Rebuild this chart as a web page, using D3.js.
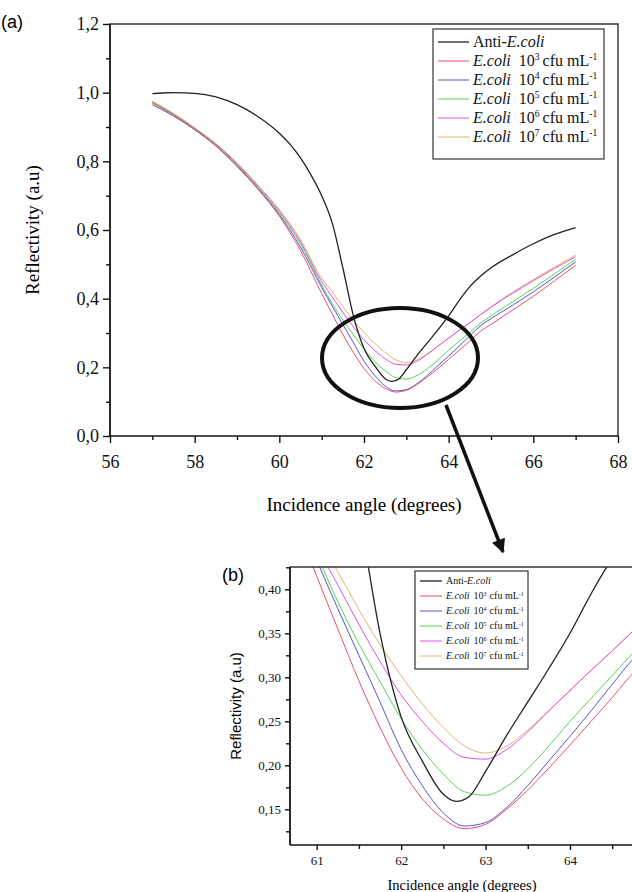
<!DOCTYPE html>
<html>
<head>
<meta charset="utf-8">
<script src="https://cdn.jsdelivr.net/npm/d3@7"></script>
<style>
  body { margin: 0; background: #fff; }
  svg { display: block; }
  .tick text { font-family: 'Liberation Serif', 'Times New Roman', serif; }
</style>
</head>
<body>
<svg id="chart" width="632" height="892"></svg>
<script>
// angles (degrees) shared by the E.coli curves
const angles = [57, 57.5, 58, 58.5, 59, 59.5, 60, 60.5, 61, 61.25, 61.5, 61.75, 62, 62.25, 62.5, 62.75,
  63, 63.25, 63.5, 63.75, 64, 64.25, 64.5, 64.75, 65, 65.5, 66, 66.5, 67];

const ecoli3 = [0.970, 0.935, 0.893, 0.845, 0.785, 0.718, 0.640, 0.540, 0.415, 0.355, 0.296, 0.243, 0.197, 0.162, 0.139, 0.128,
  0.133, 0.150, 0.172, 0.197, 0.223, 0.250, 0.277, 0.305, 0.325, 0.366, 0.407, 0.452, 0.497];
const ecoli4 = [0.965, 0.932, 0.892, 0.845, 0.787, 0.720, 0.645, 0.550, 0.433, 0.378, 0.325, 0.272, 0.218, 0.177, 0.146, 0.131,
  0.135, 0.152, 0.177, 0.205, 0.233, 0.262, 0.292, 0.321, 0.342, 0.380, 0.420, 0.463, 0.507];
const ecoli5 = [0.972, 0.937, 0.895, 0.848, 0.790, 0.723, 0.650, 0.560, 0.440, 0.386, 0.338, 0.295, 0.253, 0.218, 0.190, 0.170,
  0.166, 0.176, 0.196, 0.222, 0.250, 0.276, 0.302, 0.328, 0.350, 0.390, 0.430, 0.472, 0.515];
const ecoli6 = [0.972, 0.937, 0.896, 0.850, 0.793, 0.727, 0.655, 0.565, 0.450, 0.405, 0.360, 0.318, 0.280, 0.250, 0.225, 0.209,
  0.207, 0.218, 0.238, 0.262, 0.285, 0.308, 0.330, 0.353, 0.375, 0.415, 0.452, 0.488, 0.522];
const ecoli7 = [0.975, 0.940, 0.898, 0.852, 0.796, 0.730, 0.660, 0.572, 0.460, 0.420, 0.377, 0.337, 0.302, 0.270, 0.243, 0.222,
  0.214, 0.222, 0.240, 0.262, 0.285, 0.308, 0.330, 0.353, 0.376, 0.418, 0.456, 0.492, 0.527];

// the antibody-only curve was read on its own grid
const antiAngles = [57, 57.25, 57.5, 58, 58.5, 59, 59.5, 60, 60.25, 60.5, 60.75, 61, 61.25, 61.5, 61.75, 62, 62.25, 62.5,
  62.65, 62.8, 63, 63.25, 63.5, 63.75, 64, 64.25, 64.5, 64.75, 65, 65.5, 66, 66.5, 67];
const antiEcoli = [0.997, 0.999, 1.0, 0.998, 0.988, 0.965, 0.930, 0.882, 0.850, 0.810, 0.760, 0.700, 0.620, 0.490, 0.350, 0.255, 0.205, 0.167,
  0.159, 0.164, 0.193, 0.234, 0.272, 0.310, 0.350, 0.395, 0.435, 0.465, 0.490, 0.527, 0.560, 0.587, 0.607];

const xTicksA = [56, 58, 60, 62, 64, 66, 68];
const yTicksA = [0, 0.2, 0.4, 0.6, 0.8, 1.0, 1.2];
const xTicksB = [61, 62, 63, 64];
const yTicksB = [0.15, 0.20, 0.25, 0.30, 0.35, 0.40];

const series = [
  { name: "anti", xs: antiAngles, ys: antiEcoli, color: "#222", width: 1.3 },
  { name: "3", xs: angles, ys: ecoli3, color: "#e8506e", width: 1 },
  { name: "4", xs: angles, ys: ecoli4, color: "#5555cc", width: 1 },
  { name: "5", xs: angles, ys: ecoli5, color: "#55d655", width: 1 },
  { name: "6", xs: angles, ys: ecoli6, color: "#e050e0", width: 1 },
  { name: "7", xs: angles, ys: ecoli7, color: "#e2b272", width: 1 }
];

const serif = "'Liberation Serif', 'Times New Roman', serif";
const sans = "'Liberation Sans', Arial, sans-serif";
const comma = (f) => (d) => d3.format(f)(d).replace(".", ",");

const svg = d3.select("#chart");

function drawPanel(p) {
  const g = svg.append("g");
  const x = d3.scaleLinear().domain(p.xDom).range(p.xRange);
  const y = d3.scaleLinear().domain(p.yDom).range(p.yRange);

  // clip so the zoomed curves stop at the frame
  g.append("clipPath").attr("id", "clip-" + p.id)
    .append("rect")
    .attr("x", p.left).attr("y", p.top)
    .attr("width", p.right - p.left).attr("height", p.bottom - p.top);

  const line = d3.line()
    .x((d) => x(d[0]))
    .y((d) => y(d[1]))
    .curve(d3.curveMonotoneX);

  const curves = g.append("g").attr("clip-path", "url(#clip-" + p.id + ")");
  series.slice().reverse().forEach((s) => {
    curves.append("path")
      .datum(s.xs.map((v, i) => [v, s.ys[i]]))
      .attr("d", line)
      .attr("fill", "none")
      .attr("stroke", s.color)
      .attr("stroke-width", s.width);
  });

  // top and right frame
  g.append("path")
    .attr("d", `M${p.left},${p.bottom}V${p.top}H${p.right}V${p.bottom}`)
    .attr("fill", "none").attr("stroke", "#333").attr("stroke-width", 1.4);

  // minor ticks
  g.append("g").attr("transform", `translate(0,${p.bottom})`)
    .call(d3.axisBottom(x).tickValues(p.xMinor).tickSize(p.minorLen).tickSizeOuter(0).tickFormat(""))
    .call((a) => a.select(".domain").remove());
  g.append("g").attr("transform", `translate(${p.left},0)`)
    .call(d3.axisLeft(y).tickValues(p.yMinor).tickSize(p.minorLen).tickSizeOuter(0).tickFormat(""))
    .call((a) => a.select(".domain").remove());

  // major ticks and labels
  const xa = g.append("g").attr("transform", `translate(0,${p.bottom})`)
    .call(d3.axisBottom(x).tickValues(p.xTicks).tickSize(p.majorLen).tickSizeOuter(0)
      .tickPadding(p.xPad).tickFormat(d3.format("d")))
    .attr("font-family", serif);
  xa.select(".domain").attr("d", `M${p.left},0H${p.right}`);
  const ya = g.append("g").attr("transform", `translate(${p.left},0)`)
    .call(d3.axisLeft(y).tickValues(p.yTicks).tickSize(p.majorLen).tickSizeOuter(0)
      .tickPadding(p.yPad).tickFormat(comma(p.yFmt)))
    .attr("font-family", serif);
  ya.select(".domain").attr("d", `M0,${p.bottom}V${p.top}`);

  g.selectAll(".tick line, .domain").attr("stroke", "#111").attr("stroke-width", 1.4);
  g.selectAll(".tick text")
    .style("font-family", serif)
    .style("font-size", p.tickFont + "px")
    .attr("fill", "#111");

  // axis titles
  g.append("text")
    .attr("x", (p.left + Math.min(p.right, 632)) / 2 + p.xTitleShift).attr("y", p.xTitleY)
    .attr("text-anchor", "middle").style("font-family", serif).style("font-size", p.titleFont + "px")
    .text("Incidence angle (degrees)");
  g.append("text")
    .attr("transform", `translate(${p.yTitleX},${(p.top + p.bottom) / 2}) rotate(-90)`)
    .attr("text-anchor", "middle").attr("dy", "0.35em")
    .style("font-family", p.yTitleFamily).style("font-size", p.yTitleFont + "px")
    .text("Reflectivity (a.u)");

  // panel letter
  g.append("text").attr("x", p.letterX).attr("y", p.letterY)
    .style("font-family", sans).style("font-size", "18px").text(p.letter);

  // legend
  const L = p.legend;
  const lg = g.append("g");
  lg.append("rect").attr("x", L.x).attr("y", L.y).attr("width", L.w).attr("height", L.h)
    .attr("fill", "#fff").attr("stroke", "#444").attr("stroke-width", 1.3);
  series.forEach((s, i) => {
    const cy = L.y + L.first + i * L.step;
    lg.append("line").attr("x1", L.x + 5).attr("x2", L.x + 5 + L.sample)
      .attr("y1", cy).attr("y2", cy).attr("stroke", s.color).attr("stroke-width", s.width);
    const t = lg.append("text").attr("x", L.x + 9 + L.sample).attr("y", cy + L.font * 0.33)
      .style("font-family", serif).style("font-size", L.font + "px").attr("fill", "#111");
    if (s.name === "anti") {
      t.append("tspan").text("Anti-");
      t.append("tspan").attr("font-style", "italic").text("E.coli");
    } else {
      t.append("tspan").attr("font-style", "italic").text("E.coli");
      t.append("tspan").attr("dx", L.gap).text("10");
      t.append("tspan").attr("dy", -L.font * 0.38).style("font-size", (L.font * 0.6) + "px").text(s.name);
      t.append("tspan").attr("dy", L.font * 0.38).attr("dx", 3).text("cfu mL");
      t.append("tspan").attr("dy", -L.font * 0.38).style("font-size", (L.font * 0.6) + "px").text("-1");
    }
  });
}

// (a) full resonance curves
drawPanel({
  id: "a", letter: "(a)", letterX: 1, letterY: 28,
  xDom: [56, 68], xRange: [110, 618], yDom: [0, 1.2], yRange: [436, 24],
  left: 110, right: 618, top: 24, bottom: 436,
  xTicks: xTicksA, yTicks: yTicksA,
  xMinor: d3.range(57, 68, 2), yMinor: d3.range(0.1, 1.2, 0.2),
  majorLen: 7, minorLen: 4, xPad: 12, yPad: 4, yFmt: ".1f",
  tickFont: 18, titleFont: 19, xTitleY: 511, xTitleShift: 0,
  yTitleX: 32, yTitleFamily: serif, yTitleFont: 19,
  legend: { x: 433, y: 29, w: 171, h: 130, first: 13, step: 19, sample: 31, font: 16, gap: 8 }
});

// (b) zoom on the minimum
drawPanel({
  id: "b", letter: "(b)", letterX: 222, letterY: 581,
  xDom: [61, 64], xRange: [316.7, 570], yDom: [0.15, 0.40], yRange: [809.3, 589.3],
  left: 290, right: 700, top: 567, bottom: 845,
  xTicks: xTicksB, yTicks: yTicksB,
  xMinor: [61.5, 62.5, 63.5, 64.5], yMinor: [0.125, 0.175, 0.225, 0.275, 0.325, 0.375, 0.425],
  majorLen: 5, minorLen: 4, xPad: 6, yPad: 4, yFmt: ".2f",
  tickFont: 13, titleFont: 14.5, xTitleY: 890, xTitleShift: 1,
  yTitleX: 236, yTitleFamily: sans, yTitleFont: 15,
  legend: { x: 415, y: 571, w: 113, h: 98, first: 10, step: 15, sample: 22, font: 10, gap: 4 }
});

// ellipse marking the zoomed region and the arrow to panel (b)
svg.append("ellipse")
  .attr("cx", 400).attr("cy", 358).attr("rx", 78).attr("ry", 50)
  .attr("fill", "none").attr("stroke", "#111").attr("stroke-width", 4);

svg.append("defs").append("marker")
  .attr("id", "head").attr("viewBox", "0 0 10 10").attr("refX", 9).attr("refY", 5)
  .attr("markerWidth", 4.5).attr("markerHeight", 4).attr("orient", "auto")
  .append("path").attr("d", "M0,0L10,5L0,10Z").attr("fill", "#111");

svg.append("line")
  .attr("x1", 446).attr("y1", 405).attr("x2", 503).attr("y2", 552)
  .attr("stroke", "#111").attr("stroke-width", 3.5)
  .attr("marker-end", "url(#head)");
</script>
</body>
</html>
